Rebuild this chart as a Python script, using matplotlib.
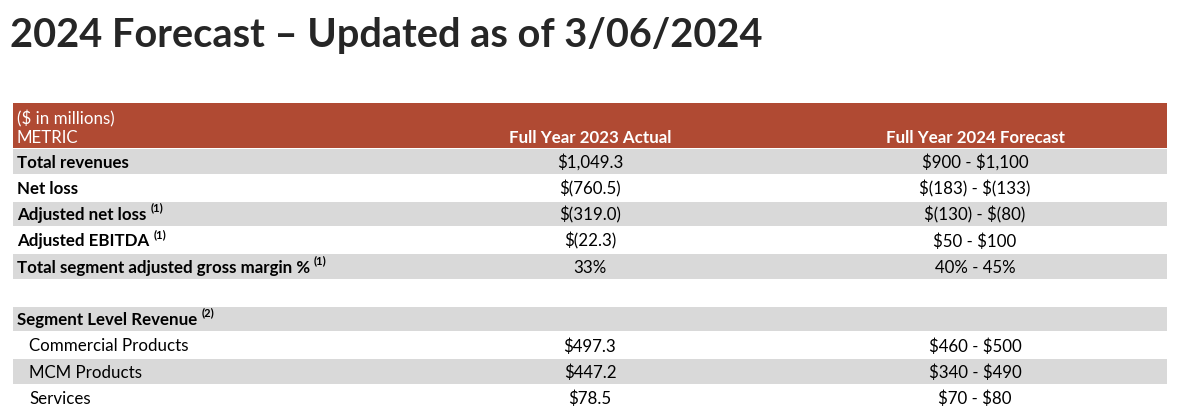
import matplotlib.pyplot as plt
from matplotlib.patches import Rectangle

plt.rcParams['text.parse_math'] = False

# table content
metrics = ["Total revenues", "Net loss", "Adjusted net loss", "Adjusted EBITDA",
           "Total segment adjusted gross margin %", "",
           "Segment Level Revenue", "Commercial Products", "MCM Products", "Services"]
footnotes = ["", "", "(1)", "(1)", "(1)", "", "(2)", "", "", ""]
actual_2023 = ["$1,049.3", "$(760.5)", "$(319.0)", "$(22.3)", "33%", "", "", "$497.3", "$447.2", "$78.5"]
forecast_2024 = ["$900 - $1,100", "$(183) - $(133)", "$(130) - $(80)", "$50 - $100", "40% - 45%",
                 "", "", "$460 - $500", "$340 - $490", "$70 - $80"]
bold_rows = [True, True, True, True, True, False, True, False, False, False]
shaded = [True, False, True, False, True, False, True, False, True, False]

title = "2024 Forecast \u2013 Updated as of 3/06/2024"
col_headers = ["Full Year 2023 Actual", "Full Year 2024 Forecast"]

W, H = 1179, 419
header_col = "#B04A33"
band_col = "#D9D9D9"
font = "Lato"
fs = 12.2

fig = plt.figure(figsize=(W / 100, H / 100), dpi=100)
ax = fig.add_axes([0, 0, 1, 1])
ax.set_xlim(0, W)
ax.set_ylim(H, 0)
ax.axis("off")

left, right = 13, 1167
col_x = [17, 590, 975]

fig.text(10 / W, 1 - 36 / H, title, fontsize=28.6, fontweight="bold", color="#262626",
         family=font, va="center", ha="left")

# header band
ax.add_patch(Rectangle((left, 103), right - left, 45, color=header_col, lw=0))
ax.text(col_x[0], 119, "($ in millions)", color="white", fontsize=fs, family=font, va="center")
ax.text(col_x[0], 137.5, "METRIC", color="white", fontsize=fs, family=font, va="center")
for x, h in zip(col_x[1:], col_headers):
    ax.text(x, 137.5, h, color="white", fontsize=fs, fontweight="bold", family=font,
            va="center", ha="center")

top = 148
row_h = 26.25
fig.canvas.draw()
r = fig.canvas.get_renderer()
for i, m in enumerate(metrics):
    y0 = top + i * row_h
    yc = y0 + row_h / 2 + 1.5
    if shaded[i]:
        ax.add_patch(Rectangle((left, y0 + 1), right - left, row_h - 1.5, color=band_col, lw=0))
    if m == "":
        continue
    x = col_x[0] if bold_rows[i] else col_x[0] + 12
    t = ax.text(x, yc, m, fontsize=fs, family=font, va="center",
                fontweight="bold" if bold_rows[i] else "normal", color="black")
    if footnotes[i]:
        bb = t.get_window_extent(renderer=r)
        ax.text(bb.x1 + 4, yc - 7, footnotes[i], fontsize=8, family=font,
                fontweight="bold", va="center", ha="left")
    ax.text(col_x[1], yc, actual_2023[i], fontsize=fs, family=font, va="center", ha="center")
    ax.text(col_x[2], yc, forecast_2024[i], fontsize=fs, family=font, va="center", ha="center")

fig.savefig("out.png", dpi=100)
